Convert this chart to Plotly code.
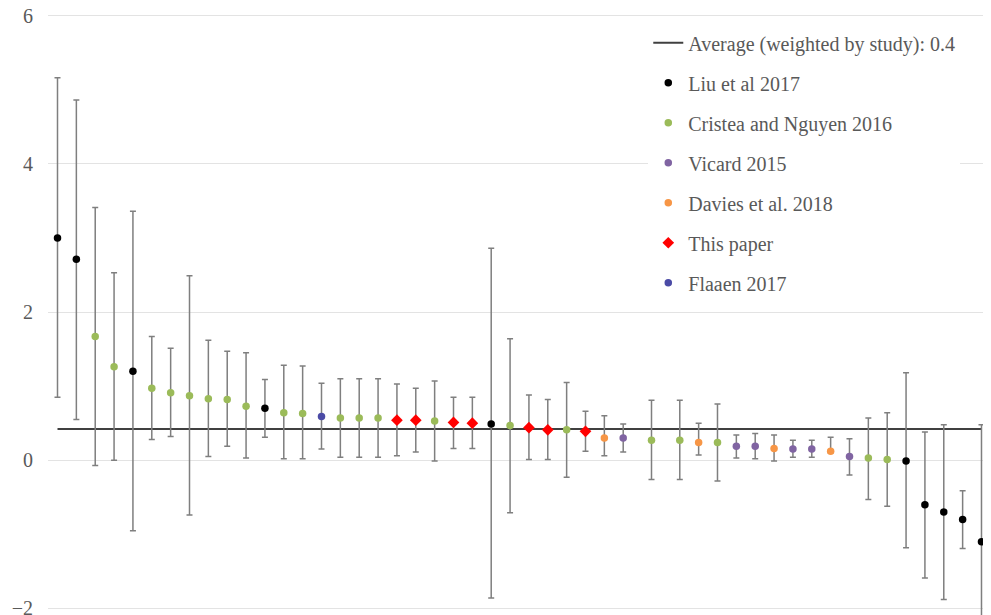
import plotly.graph_objects as go

# ---------------- data ----------------
positions = [0, 1, 2, 3, 4, 5, 6, 7, 8, 9, 10, 11, 12, 13, 14, 15, 16, 17, 18, 19,
             20, 21, 22, 23, 24, 25, 26, 27, 28, 29, 30, 31.5, 33, 34, 35, 36, 37, 38,
             39, 40, 41, 42, 43, 44, 45, 46, 47, 48, 49]

studies = ["Liu", "Liu", "Cristea", "Cristea", "Liu", "Cristea", "Cristea", "Cristea",
           "Cristea", "Cristea", "Cristea", "Liu", "Cristea", "Cristea", "Flaaen",
           "Cristea", "Cristea", "Cristea", "This", "This", "Cristea", "This", "This",
           "Liu", "Cristea", "This", "This", "Cristea", "This", "Davies", "Vicard",
           "Cristea", "Cristea", "Davies", "Cristea", "Vicard", "Vicard", "Davies",
           "Vicard", "Vicard", "Davies", "Vicard", "Cristea", "Cristea", "Liu", "Liu",
           "Liu", "Liu", "Liu"]

estimates = [3.00, 2.71, 1.67, 1.26, 1.20, 0.97, 0.91, 0.87, 0.83, 0.82, 0.73, 0.70,
             0.64, 0.63, 0.59, 0.57, 0.57, 0.57, 0.54, 0.54, 0.53, 0.51, 0.50, 0.49,
             0.47, 0.44, 0.41, 0.41, 0.39, 0.30, 0.30, 0.27, 0.27, 0.24, 0.24, 0.19,
             0.19, 0.16, 0.15, 0.15, 0.12, 0.05, 0.03, 0.01, -0.01, -0.60, -0.70,
             -0.80, -1.10]

upper = [5.16, 4.86, 3.41, 2.53, 3.36, 1.67, 1.51, 2.49, 1.62, 1.47, 1.45, 1.09,
         1.28, 1.27, 1.04, 1.10, 1.10, 1.10, 1.03, 0.97, 1.07, 0.85, 0.85, 2.86,
         1.64, 0.88, 0.82, 1.05, 0.66, 0.60, 0.49, 0.81, 0.81, 0.50, 0.76, 0.34,
         0.36, 0.34, 0.27, 0.27, 0.31, 0.29, 0.57, 0.64, 1.18, 0.38, 0.48, -0.41,
         0.48]

lower = [0.85, 0.55, -0.07, 0.00, -0.95, 0.28, 0.32, -0.74, 0.05, 0.19, 0.03, 0.31,
         0.02, 0.02, 0.15, 0.04, 0.04, 0.04, 0.06, 0.11, -0.01, 0.16, 0.16, -1.86,
         -0.71, 0.01, 0.01, -0.23, 0.12, 0.06, 0.11, -0.26, -0.26, 0.07, -0.28, 0.03,
         0.02, -0.01, 0.04, 0.04, 0.10, -0.20, -0.53, -0.62, -1.18, -1.59, -1.88,
         -1.19, -2.70]

average_value = 0.42
average_label = "Average (weighted by study): 0.4"

series_keys = ["Liu", "Cristea", "Vicard", "Davies", "This", "Flaaen"]
series_names = ["Liu et al 2017", "Cristea and Nguyen 2016", "Vicard 2015",
                "Davies et al. 2018", "This paper", "Flaaen 2017"]
series_colors = ["#000000", "#9bbb59", "#8064a2", "#f79646", "#ff0000", "#4b4ba6"]
series_symbols = ["circle", "circle", "circle", "circle", "diamond", "circle"]

y_ticks = [-2, 0, 2, 4, 6]

# ---------------- figure ----------------
FONT = "Liberation Serif, DejaVu Serif, serif"
fig = go.Figure()

fig.add_trace(go.Scatter(
    x=[positions[0], positions[-1]], y=[average_value, average_value],
    mode="lines", name=average_label, legendgroup="avg",
    line=dict(color="#404040", width=2), hoverinfo="skip"))

for key, name, color, symbol in zip(series_keys, series_names, series_colors, series_symbols):
    idx = [i for i, s in enumerate(studies) if s == key]
    xs = [positions[i] for i in idx]
    ys = [estimates[i] for i in idx]
    up = [upper[i] - estimates[i] for i in idx]
    dn = [estimates[i] - lower[i] for i in idx]
    fig.add_trace(go.Scatter(
        x=xs, y=ys, mode="markers", name=name, legendgroup=key,
        marker=dict(color=color, symbol=symbol, size=9 if symbol == "diamond" else 7.5,
                    line=dict(width=0)),
        error_y=dict(type="data", symmetric=False, array=up, arrayminus=dn,
                     color="#7f7f7f", thickness=1.5, width=3),
    ))

# white panel behind the legend (hides gridlines there, as in the original)
fig.add_shape(type="rect", xref="paper", yref="paper", layer="between",
              x0=0.617, x1=1.0, y0=0.523, y1=0.985,
              fillcolor="white", line=dict(width=0))

fig.update_layout(
    width=975, height=607,
    margin=dict(l=40, r=0, t=5, b=0, autoexpand=False),
    paper_bgcolor="white", plot_bgcolor="white",
    font=dict(family=FONT, size=20, color="#595959"),
    showlegend=True,
    legend=dict(x=0.642, y=0.983, xanchor="left", yanchor="top",
                bgcolor="white", borderwidth=0, traceorder="grouped",
                tracegroupgap=11, font=dict(family=FONT, size=20, color="#595959")),
)
fig.update_xaxes(range=[-0.504, 49.08], visible=False, showgrid=False, zeroline=False,
                 automargin=False)
fig.update_yaxes(range=[-2.088, 6.034], tickvals=y_ticks, showgrid=True,
                 gridcolor="#e3e3e3", gridwidth=1, zeroline=False, showline=False,
                 ticks="", ticklabelstandoff=14, automargin=False,
                 ticklabeloverflow="allow",
                 tickfont=dict(family=FONT, size=20, color="#595959"))

fig.write_html("out.html")
